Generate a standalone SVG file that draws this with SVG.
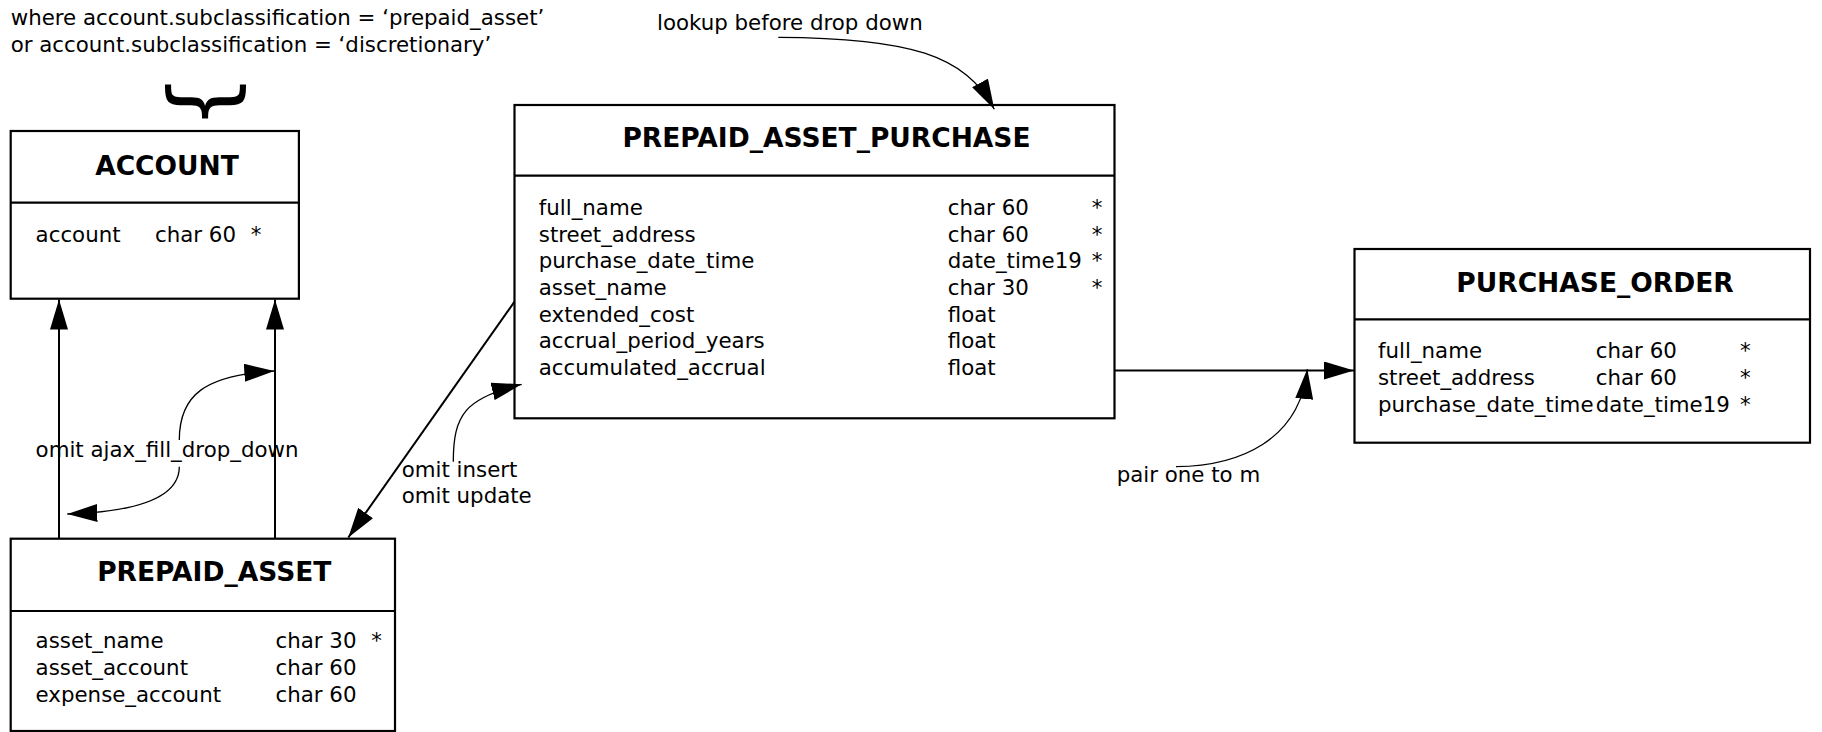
<svg xmlns="http://www.w3.org/2000/svg" width="1822" height="732" viewBox="0 0 1822 732">
<defs>
<style>
text{font-family:"DejaVu Sans","Liberation Sans",sans-serif;fill:#000}
.t{font-size:21.33px}
.h{font-size:26.5px;font-weight:bold;text-anchor:middle}
.box{fill:#fff;stroke:#000;stroke-width:2.2}
.div{stroke:#000;stroke-width:2.2}
.edge{fill:none;stroke:#000;stroke-width:2}
.curve{fill:none;stroke:#000;stroke-width:1.3}
</style>
<marker id="arr" viewBox="0 0 30 18" refX="30" refY="9" markerWidth="30" markerHeight="18" markerUnits="userSpaceOnUse" orient="auto">
<path d="M0,0 L30,9 L0,18 z" fill="#000"/>
</marker>
</defs>
<rect width="1822" height="732" fill="#fff"/>

<g id="note-where">
<text class="t" x="10.7" y="25">where account.subclassification = ‘prepaid_asset’</text>
<text class="t" x="10.7" y="51.7">or account.subclassification = ‘discretionary’</text>
<text x="0" y="0" font-size="88" transform="translate(230.8,129.5) rotate(-90)">{</text>
</g>

<g id="account">
<rect class="box" x="10.7" y="131" width="288.2" height="167.7"/>
<line class="div" x1="10.7" y1="202.7" x2="298.9" y2="202.7"/>
<text class="h" x="167" y="175">ACCOUNT</text>
<text class="t" x="35.6" y="242">account</text>
<text class="t" x="155" y="242">char 60</text>
<text class="t" x="250.7" y="242">*</text>
</g>

<g id="prepaid_asset">
<rect class="box" x="10.7" y="538.7" width="384.3" height="192.3"/>
<line class="div" x1="10.7" y1="611" x2="395" y2="611"/>
<text class="h" x="214.3" y="581">PREPAID_ASSET</text>
<text class="t" x="35.6" y="648.3">asset_name</text>
<text class="t" x="275.5" y="648.3">char 30</text>
<text class="t" x="371.2" y="648.3">*</text>
<text class="t" x="35.6" y="675">asset_account</text>
<text class="t" x="275.5" y="675">char 60</text>
<text class="t" x="35.6" y="701.7">expense_account</text>
<text class="t" x="275.5" y="701.7">char 60</text>
</g>

<g id="prepaid_asset_purchase">
<rect class="box" x="514.5" y="105" width="600" height="313.3"/>
<line class="div" x1="514.5" y1="175.7" x2="1114.5" y2="175.7"/>
<text class="h" x="826.5" y="146.7">PREPAID_ASSET_PURCHASE</text>
<text class="t" x="538.8" y="215">full_name</text>
<text class="t" x="947.8" y="215">char 60</text>
<text class="t" x="1091.8" y="215">*</text>
<text class="t" x="538.8" y="241.7">street_address</text>
<text class="t" x="947.8" y="241.7">char 60</text>
<text class="t" x="1091.8" y="241.7">*</text>
<text class="t" x="538.8" y="268.3">purchase_date_time</text>
<text class="t" x="947.8" y="268.3">date_time19</text>
<text class="t" x="1091.8" y="268.3">*</text>
<text class="t" x="538.8" y="295">asset_name</text>
<text class="t" x="947.8" y="295">char 30</text>
<text class="t" x="1091.8" y="295">*</text>
<text class="t" x="538.8" y="321.7">extended_cost</text>
<text class="t" x="947.8" y="321.7">float</text>
<text class="t" x="538.8" y="348.3">accrual_period_years</text>
<text class="t" x="947.8" y="348.3">float</text>
<text class="t" x="538.8" y="375">accumulated_accrual</text>
<text class="t" x="947.8" y="375">float</text>
</g>

<g id="purchase_order">
<rect class="box" x="1354.5" y="249" width="455.5" height="193.7"/>
<line class="div" x1="1354.5" y1="319.3" x2="1810" y2="319.3"/>
<text class="h" x="1595" y="291.7">PURCHASE_ORDER</text>
<text class="t" x="1378" y="358.3">full_name</text>
<text class="t" x="1595.8" y="358.3">char 60</text>
<text class="t" x="1740" y="358.3">*</text>
<text class="t" x="1378" y="385">street_address</text>
<text class="t" x="1595.8" y="385">char 60</text>
<text class="t" x="1740" y="385">*</text>
<text class="t" x="1378" y="411.7">purchase_date_time</text>
<text class="t" x="1595.8" y="411.7">date_time19</text>
<text class="t" x="1740" y="411.7">*</text>
</g>

<g id="connectors">
<line class="edge" x1="59" y1="538.7" x2="59" y2="299.5" marker-end="url(#arr)"/>
<line class="edge" x1="275" y1="538.7" x2="275" y2="299.5" marker-end="url(#arr)"/>
<line class="edge" x1="514.5" y1="301.7" x2="348.3" y2="537.5" marker-end="url(#arr)"/>
<line class="edge" x1="1114.5" y1="370.5" x2="1354" y2="370.5" marker-end="url(#arr)"/>

<path class="curve" d="M179.3,440 C179.3,395 205,375 274.3,371" marker-end="url(#arr)"/>
<path class="curve" d="M179.3,466.7 C179.3,500 130,512 67.3,514" marker-end="url(#arr)"/>
<text class="t" x="35.6" y="456.7">omit ajax_fill_drop_down</text>

<path class="curve" d="M453.3,461.7 C453.3,415 465,398 521.7,384.3" marker-end="url(#arr)"/>
<text class="t" x="401.7" y="476.7">omit insert</text>
<text class="t" x="401.7" y="503.3">omit update</text>

<path class="curve" d="M778.3,37.3 C910,38 965,55 994.3,109.3" marker-end="url(#arr)"/>
<text class="t" x="657" y="29.5">lookup before drop down</text>

<path class="curve" d="M1176,466.7 C1240,466 1300,440 1307.3,369" marker-end="url(#arr)"/>
<text class="t" x="1116.7" y="481.7">pair one to m</text>
</g>
</svg>
